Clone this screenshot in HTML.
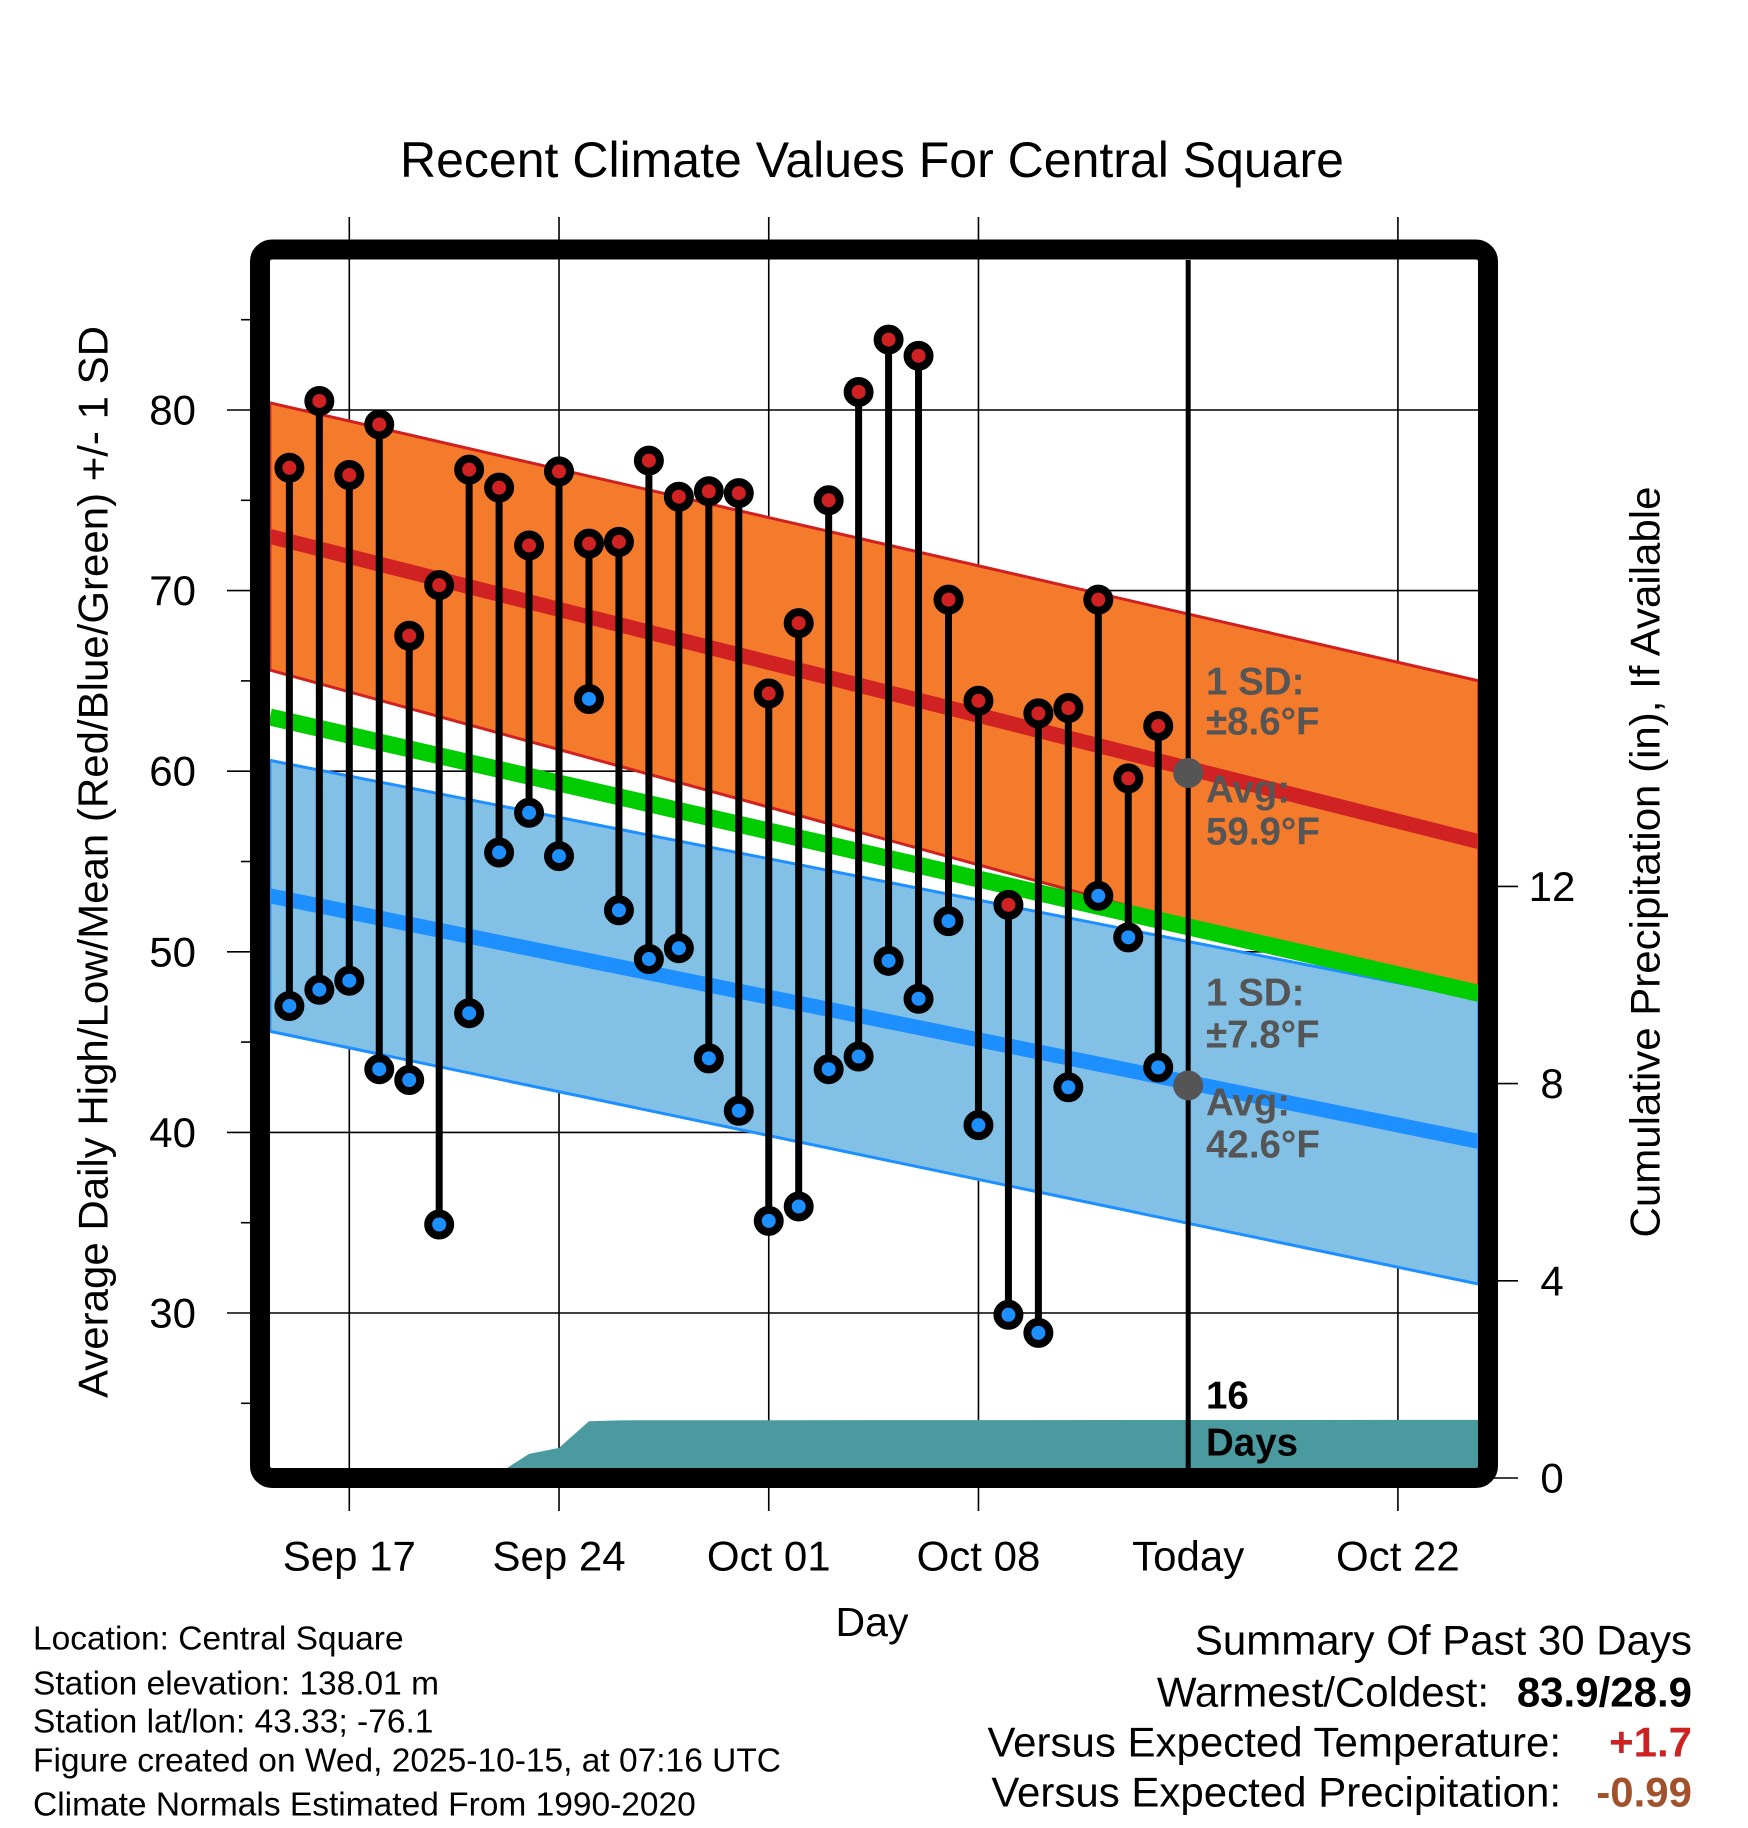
<!DOCTYPE html>
<html><head><meta charset="utf-8"><style>
html,body{margin:0;padding:0;background:#fff;}
svg{display:block;font-family:"Liberation Sans",sans-serif;}
</style></head><body>
<svg id="chart" width="1748" height="1828" viewBox="0 0 1748 1828">
<defs><clipPath id="plotclip"><rect x="270" y="260" width="1208" height="1208"/></clipPath></defs>
<text x="872" y="160" font-size="50" text-anchor="middle" dominant-baseline="central">Recent Climate Values For Central Square</text>
<g id="grid"></g>
<g id="plot" clip-path="url(#plotclip)"></g>
<g id="marks"></g>
<rect x="260" y="249.5" width="1228" height="1228.5" rx="12" fill="none" stroke="#000" stroke-width="20"/>
<g id="axes"></g>
<text transform="translate(93,862) rotate(-90)" font-size="42" text-anchor="middle" dominant-baseline="central">Average Daily High/Low/Mean (Red/Blue/Green) +/- 1 SD</text>
<text transform="translate(1645,862) rotate(-90)" font-size="42" text-anchor="middle" dominant-baseline="central">Cumulative Precipitation (in), If Available</text>
<text x="872" y="1622" font-size="41" text-anchor="middle" dominant-baseline="central">Day</text>
<g font-size="33.5">
<text x="33" y="1639" dominant-baseline="central">Location: Central Square</text>
<text x="33" y="1684" dominant-baseline="central">Station elevation: 138.01 m</text>
<text x="33" y="1722" dominant-baseline="central">Station lat/lon: 43.33; -76.1</text>
<text x="33" y="1761" dominant-baseline="central">Figure created on Wed, 2025-10-15, at 07:16 UTC</text>
<text x="33" y="1805" dominant-baseline="central">Climate Normals Estimated From 1990-2020</text>
</g>
<g font-size="42">
<text x="1692" y="1640" text-anchor="end" dominant-baseline="central">Summary Of Past 30 Days</text>
<text x="1489" y="1692" text-anchor="end" dominant-baseline="central">Warmest/Coldest:</text>
<text x="1692" y="1692" text-anchor="end" dominant-baseline="central" font-weight="bold">83.9/28.9</text>
<text x="1561" y="1742" text-anchor="end" dominant-baseline="central">Versus Expected Temperature:</text>
<text x="1692" y="1742" text-anchor="end" dominant-baseline="central" font-weight="bold" fill="#cc2222">+1.7</text>
<text x="1561" y="1792" text-anchor="end" dominant-baseline="central">Versus Expected Precipitation:</text>
<text x="1692" y="1792" text-anchor="end" dominant-baseline="central" font-weight="bold" fill="#a0522d">-0.99</text>
</g>
</svg>
<script>
// Data (day offsets from Sep 17; Sep 15 = -2)
const highs = [76.8,80.5,76.4,79.2,67.5,70.3,76.7,75.7,72.5,76.6,72.6,72.7,77.2,75.2,75.5,75.4,64.3,68.2,75.0,81.0,83.9,83.0,69.5,63.9,52.6,63.2,63.5,69.5,59.6,62.5];
const lows = [47.0,47.9,48.4,43.5,42.9,34.9,46.6,55.5,57.7,55.3,64.0,52.3,49.6,50.2,44.1,41.2,35.1,35.9,43.5,44.2,49.5,47.4,51.7,40.4,29.9,28.9,42.5,53.1,50.8,43.6];
const precipDays = [-2,4.75,6,7,8,9,40];
const precipVals = [0,0,0.49,0.61,1.15,1.17,1.18];
const normDays = [-2.65,37.7];
const normHighAvg = [73.0,56.1];
const normHighSD = [7.4,8.9];
const normMean = [63.0,47.7];
const normLowAvg = [53.1,39.5];
const normLowSD = [7.5,7.9];
const todayDay = 28;
const todayHigh = 59.9, todayLow = 42.6;
const xTickDays = [0,7,14,21,28,35];
const xTickLabels = ["Sep 17","Sep 24","Oct 01","Oct 08","Today","Oct 22"];
const yTicks = [30,40,50,60,70,80];
const yMinor = [25,35,45,55,65,75,85];
const pTicks = [0,4,8,12];

const NS="http://www.w3.org/2000/svg";
const X = d => 349.3 + d*29.96;
const Y = v => 410 + (80-v)*18.06;
const P = v => 1478 - v*49.3;
function mk(tag, attrs, parent){const e=document.createElementNS(NS,tag);for(const k in attrs)e.setAttribute(k,attrs[k]);parent.appendChild(e);return e;}
const grid=document.getElementById('grid'), plot=document.getElementById('plot'), marks=document.getElementById('marks'), axes=document.getElementById('axes');

xTickDays.forEach((d,i)=>{
  if(i!==4){const l=mk('line',{x1:X(d),x2:X(d),y1:217,y2:1511,stroke:'#000','stroke-width':1.6},grid);
  
  }
  const t=mk('text',{x:X(d),y:1556,'font-size':42,'text-anchor':'middle','dominant-baseline':'central'},axes);
  t.textContent=xTickLabels[i];
  
  
});
yTicks.forEach(v=>{
  const l=mk('line',{x1:227,x2:1478,y1:Y(v),y2:Y(v),stroke:'#000','stroke-width':1.6},grid);
  
  
  const t=mk('text',{x:196,y:Y(v),'font-size':42,'text-anchor':'end','dominant-baseline':'central'},axes);
  t.textContent=v;
  
  
});
yMinor.forEach(v=>{
  const l=mk('line',{x1:241,x2:252,y1:Y(v),y2:Y(v),stroke:'#000','stroke-width':1.6},grid);
  
  
});
pTicks.forEach(v=>{
  const l=mk('line',{x1:1490,x2:1518,y1:P(v),y2:P(v),stroke:'#000','stroke-width':1.6},axes);
  
  
  const t=mk('text',{x:1552,y:P(v),'font-size':42,'text-anchor':'middle','dominant-baseline':'central'},axes);
  t.textContent=v;
  
  
});

function band(avg,sd,fill,edge,name){
  const x0=X(normDays[0]),x1=X(normDays[1]);
  const pts=`${x0},${Y(avg[0]+sd[0])} ${x1},${Y(avg[1]+sd[1])} ${x1},${Y(avg[1]-sd[1])} ${x0},${Y(avg[0]-sd[0])}`;
  const p=mk('polygon',{points:pts,fill:fill,stroke:edge,'stroke-width':3},plot);
  
  
}
function nline(vals,color,w,name){
  const l=mk('line',{x1:X(normDays[0]),x2:X(normDays[1]),y1:Y(vals[0]),y2:Y(vals[1]),stroke:color,'stroke-width':w},plot);
  
  
}
band(normHighAvg,normHighSD,'#f47a2c','#d02020','high-sd-band');
band(normLowAvg,normLowSD,'#82c0e6','#1e8fff','low-sd-band');
nline(normMean,'#00cc00',17,'mean-normal-line');
nline(normHighAvg,'#d02222',15,'high-normal-line');
nline(normLowAvg,'#1e8fff',15,'low-normal-line');

let pp=`${X(precipDays[0])},1480 `+precipDays.map((d,i)=>`${X(d)},${P(precipVals[i])}`).join(' ')+` ${X(precipDays[precipDays.length-1])},1480`;
const pa=mk('polygon',{points:pp,fill:'#4a9aa0'},plot);



const tl=mk('line',{x1:X(todayDay),x2:X(todayDay),y1:260,y2:1468,stroke:'#000','stroke-width':5},plot);



function lab(txt,y,col,name,fs){
  const t=mk('text',{x:1206,y:y,'font-size':fs||38.5,'font-weight':'bold',fill:col,'dominant-baseline':'central'},plot);
  t.textContent=txt;
  
  
}
lab('1 SD:',682,'#555','high-sd-label');
lab('±8.6°F',722,'#555','high-sd-value');
lab('Avg:',790,'#555','high-avg-label');
lab('59.9°F',832,'#555','high-avg-value');
lab('1 SD:',993,'#555','low-sd-label');
lab('±7.8°F',1035,'#555','low-sd-value');
lab('Avg:',1103,'#555','low-avg-label');
lab('42.6°F',1145,'#555','low-avg-value');
lab('16',1396,'#000','days-count');
lab('Days',1443,'#000','days-label');

[todayHigh,todayLow].forEach((v,i)=>{
  const c=mk('circle',{cx:X(todayDay),cy:Y(v),r:15,fill:'#555'},marks);
  
  
});

highs.forEach((h,i)=>{
  const d=i-2, x=X(d);
  const s=mk('line',{x1:x,x2:x,y1:Y(h),y2:Y(lows[i]),stroke:'#000','stroke-width':7},marks);
  
  
  [[h,'#d02222','high-point'],[lows[i],'#1e8fff','low-point']].forEach(a=>{
    const c=mk('circle',{cx:x,cy:Y(a[0]),r:11,fill:a[1],stroke:'#000','stroke-width':8},marks);
    
    
  });
});
</script>
</body></html>
